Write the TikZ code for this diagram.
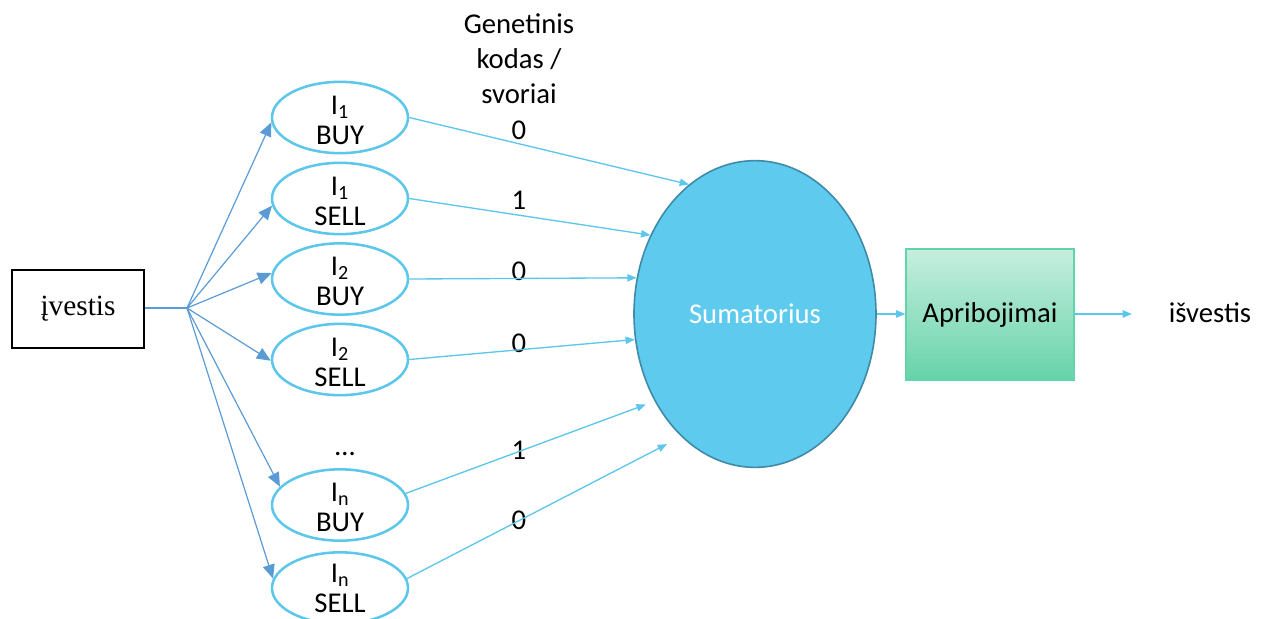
\documentclass[tikz,border=0pt]{standalone}
\usepackage{fontspec}
\setmainfont{Carlito}
\newfontfamily\serifbox{Liberation Serif}
\usetikzlibrary{arrows.meta,shapes.geometric}
\definecolor{fanblue}{HTML}{5B9BD5}
\definecolor{lightblue}{HTML}{5CC6EB}
\definecolor{sumfill}{HTML}{5DCAEE}
\definecolor{sumdraw}{HTML}{3F8AA6}
\definecolor{greentop}{HTML}{C6EEDF}
\definecolor{greenbot}{HTML}{66D3A9}
\definecolor{greendraw}{HTML}{62D4AA}
\begin{document}
\begin{tikzpicture}[x=0.75pt,y=-0.75pt,
  txt/.style={font=\fontsize{21.5}{22.5}\selectfont, align=center, inner sep=0pt},
  inell/.style={ellipse, draw=lightblue, line width=1.9pt, minimum width=102pt, minimum height=53.5pt, inner sep=0pt},
  fan/.style={draw=fanblue, line width=0.9pt, -{Triangle[length=10.5pt,width=9pt]}},
  feed/.style={draw=lightblue, line width=1pt, -{Triangle[length=7pt,width=5.5pt]}}
]
\useasboundingbox (0,0) rectangle (1261,618);

% input
\node[draw=black, line width=0.8pt, minimum width=99pt, minimum height=58.5pt,
      inner sep=0pt, font=\serifbox\fontsize{22}{24}\selectfont] (in) at (78,309) {įvestis};
\coordinate (j) at (187,308);

% input ellipses
\node[inell] (e1) at (340,117.5) {};
\node[inell] (e2) at (340,198.5) {};
\node[inell] (e3) at (340,279) {};
\node[inell] (e4) at (340,359.5) {};
\node[inell] (e5) at (340,505) {};
\node[inell] (e6) at (340,588) {};

\node[txt] (t1) at (340,120) {I\textsubscript{1}\\BUY};
\node[txt] (t2) at (340,201) {I\textsubscript{1}\\SELL};
\node[txt] (t3) at (340,281.5) {I\textsubscript{2}\\BUY};
\node[txt] (t4) at (340,362) {I\textsubscript{2}\\SELL};
\node[txt] (t5) at (340,507.5) {I\textsubscript{n}\\BUY};
\node[txt] (t6) at (340,588) {I\textsubscript{n}\\SELL};
\node[txt] (dots) at (345,454) {\dots};

% fan arrows
\draw[draw=fanblue, line width=0.9pt] (in.east |- j) -- (j);
\draw[fan] (j) -- (e1.184);
\draw[fan] (j) -- (e2.186);
\draw[fan] (j) -- (e3.175);
\draw[fan] (j) -- (e4.181);
\draw[fan] (j) -- (e5.163);
\draw[fan] (j) -- (e6.172);

% title and weights
\node[txt, font=\fontsize{21.5}{26.25}\selectfont] (title) at (519,59) {Genetinis\\kodas /\\svoriai};
\node[txt] (w1) at (519,130) {0};
\node[txt] (w2) at (519,200) {1};
\node[txt] (w3) at (519,271) {0};
\node[txt] (w4) at (519,343) {0};
\node[txt] (w5) at (519,450) {1};
\node[txt] (w6) at (519,520) {0};

% summation
\node[ellipse, fill=sumfill, draw=sumdraw, line width=1.2pt, minimum width=181.5pt,
      minimum height=230pt, text=white, font=\fontsize{21.5}{22.5}\selectfont] (s) at (755,314) {Sumatorius};

\draw[feed] (e1.east) -- (s.117.6);
\draw[feed] (e2.east) -- (s.143.6);
\draw[feed] (e3.east) -- (s.163.6);
\draw[feed] (e4.east) -- (s.192.2);
\draw[feed, shorten >=7pt] (e5.10) -- (s.221.8);
\draw[feed, shorten >=12pt] (e6.8) -- (s.239);

% constraints
\node[rectangle, top color=greentop, bottom color=greenbot, draw=greendraw, line width=0.8pt,
      minimum width=126pt, minimum height=98.25pt, font=\fontsize{21.5}{22.5}\selectfont] (a) at (990,314.5) {Apribojimai};
\draw[feed] (s.east) -- (a.west |- s.east);

\coordinate (out) at (1132,314);
\draw[feed] (a.east |- out) -- (out);
\node[txt] (isv) at (1210,313) {išvestis};
\end{tikzpicture}
\end{document}
